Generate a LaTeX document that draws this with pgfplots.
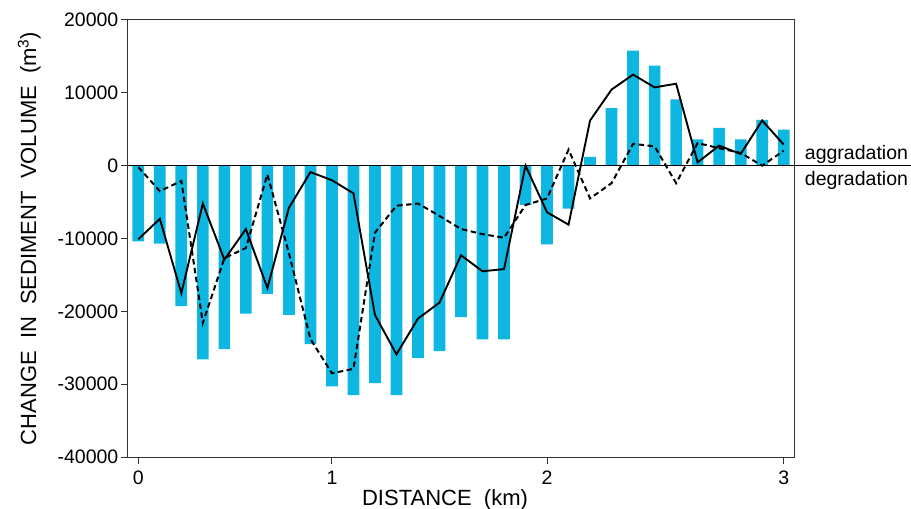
\documentclass[border=0pt]{standalone}
\usepackage{pgfplots}
\pgfplotsset{compat=1.18}
\usepackage{fontspec}
\setmainfont{Liberation Sans}
\definecolor{barblue}{RGB}{14,182,226}
\definecolor{axgray}{RGB}{50,50,50}

\begin{document}
\fontsize{19.5}{23}\selectfont
\begin{tikzpicture}
\begin{axis}[
  name=ax,
  scale only axis, width=666pt, height=437pt,
  xmin=-0.48, xmax=30.48, ymin=-40000, ymax=20000,
  xtick={0,9,19,30}, xticklabels={0,1,2,3},
  ytick={-40000,-30000,-20000,-10000,0,10000,20000},
  tick align=outside, xtick pos=bottom, ytick pos=left,
  major tick length=7pt,
  /pgf/number format/assume math mode=true,
  /pgf/number format/1000 sep={},
  scaled y ticks=false,
  axis line style={draw=axgray, line width=1pt},
  tick style={draw=axgray, line width=1pt},
  tick label style={font=\fontsize{19.5}{23}\selectfont},
  yticklabel style={xshift=4pt},
  clip=false,
  xlabel={DISTANCE\ \ (km)},
  ylabel={CHANGE\ \ IN\ \ SEDIMENT\ \ VOLUME\ \ (m\textsuperscript{3})},
  label style={font=\fontsize{22}{26}\selectfont},
  xlabel style={at={(axis description cs:0.476,-0.110)}, anchor=base},
  ylabel style={at={(axis description cs:-0.138,0.5)}, anchor=base},
]
\addplot[ybar, bar width=11.7pt, fill=barblue, draw=none] coordinates {
(0,-10400) (1,-10700) (2,-19300) (3,-26600) (4,-25200) (5,-20300)
(6,-17600) (7,-20500) (8,-24500) (9,-30300) (10,-31500) (11,-29850)
(12,-31500) (13,-26400) (14,-25450) (15,-20800) (16,-23850) (17,-23850)
(18,-5400) (19,-10800) (20,-5900) (21,1200) (22,7900) (23,15800)
(24,13750) (25,9100) (26,3600) (27,5200) (28,3600) (29,6300) (30,4950)
};
\addplot[black, line width=1.9pt, line join=miter, mark=none] coordinates {
(0,-10100) (1,-7300) (2,-17500) (3,-5200) (4,-12900) (5,-8700)
(6,-16800) (7,-5800) (8,-880) (9,-2000) (10,-3800) (11,-20500)
(12,-25900) (13,-21000) (14,-18800) (15,-12300) (16,-14500) (17,-14200)
(18,0) (19,-6400) (20,-8100) (21,6200) (22,10450) (23,12500)
(24,10750) (25,11250) (26,450) (27,2750) (28,1600) (29,6200) (30,2900)
};
\addplot[black, line width=2pt, dash pattern=on 5.5pt off 3.5pt, mark=none] coordinates {
(0,-200) (1,-3500) (2,-2100) (3,-21600) (4,-12700) (5,-11300)
(6,-1200) (7,-12000) (8,-23800) (9,-28500) (10,-27900) (11,-9200)
(12,-5500) (13,-5200) (14,-6900) (15,-8700) (16,-9400) (17,-9900)
(18,-5400) (19,-4500) (20,2200) (21,-4500) (22,-2400) (23,3000)
(24,2650) (25,-2400) (26,3100) (27,2400) (28,1750) (29,0) (30,2050)
};
\draw[black, line width=1.6pt] (axis cs:-0.48,0) -- (axis cs:35.92,0);
\node[anchor=base west, inner sep=0pt, yshift=6.5pt] at (axis cs:30.98,0) {aggradation};
\node[anchor=base west, inner sep=0pt, yshift=-20pt] at (axis cs:30.98,0) {degradation};
\end{axis}
\pgfresetboundingbox
\path[use as bounding box] ([shift={(-128pt,-52pt)}]ax.south west) rectangle ([shift={(117pt,20pt)}]ax.north east);
\end{tikzpicture}
\end{document}
